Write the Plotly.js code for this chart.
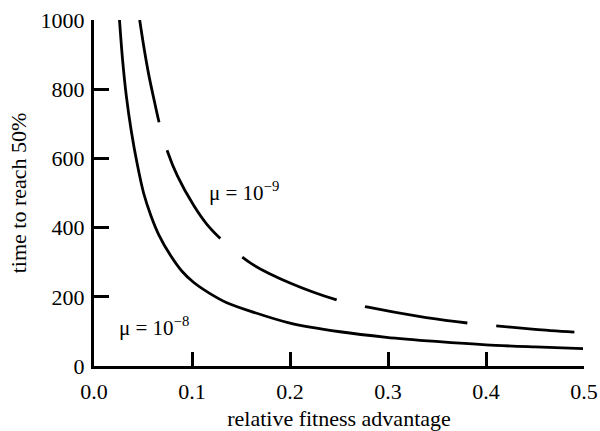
<!DOCTYPE html>
<html>
<head>
<meta charset="utf-8">
<script src="https://cdn.plot.ly/plotly-3.0.1.min.js"></script>
<style>
  html, body { margin: 0; padding: 0; background: #fff; }
  #chart { width: 600px; height: 431px; }
</style>
</head>
<body>
<div id="chart"></div>
<script>
// Data
const solidX = [0.026, 0.029, 0.033, 0.038, 0.044, 0.0506, 0.058, 0.066, 0.078, 0.09, 0.1015, 0.118, 0.1355, 0.16, 0.2, 0.251, 0.2985, 0.349, 0.4, 0.45, 0.499];
const solidY = [1000, 890, 780, 680, 585, 500, 435, 380, 320, 273, 242, 210, 183, 158, 124, 99, 83, 71, 61, 55, 50];

const dashedX = [0.0466, 0.051, 0.056, 0.062, 0.0669, 0.075, 0.085, 0.1015, 0.115, 0.132, 0.161, 0.2, 0.251, 0.2797, 0.33, 0.3697, 0.3986, 0.45, 0.4902];
const dashedY = [1000, 920, 840, 760, 699, 620, 550, 465, 410, 360, 295, 240, 188, 170, 144, 128, 119, 106, 98];

const xTickVals = [0, 0.1, 0.2, 0.3, 0.4, 0.5];
const xTickText = ["0.0", "0.1", "0.2", "0.3", "0.4", "0.5"];
const yTickVals = [0, 200, 400, 600, 800, 1000];
const yTickText = ["0", "200", "400", "600", "800", "1000"];

const labelSolid = "μ = 10<sup>−8</sup>";
const labelDashed = "μ = 10<sup>−9</sup>";
const xTitle = "relative fitness advantage";
const yTitle = "time to reach 50%";

const FONT = "Liberation Serif";

const traces = [
  {
    x: solidX, y: solidY, type: "scatter", mode: "lines",
    line: { color: "#000", width: 2.8, shape: "spline", smoothing: 0.8 },
    hoverinfo: "skip", showlegend: false
  },
  {
    x: dashedX, y: dashedY, type: "scatter", mode: "lines",
    line: { color: "#000", width: 2.8, shape: "spline", smoothing: 0.8, dash: "104px,29px" },
    hoverinfo: "skip", showlegend: false
  }
];

const layout = {
  width: 600, height: 431,
  margin: { l: 94, r: 16, t: 20, b: 65, pad: 0 },
  paper_bgcolor: "#fff", plot_bgcolor: "#fff",
  font: { family: FONT, size: 22, color: "#000" },
  showlegend: false,
  xaxis: {
    range: [0, 0.5], tickvals: xTickVals, ticktext: xTickText,
    ticks: "inside", ticklen: 14, tickwidth: 3, tickcolor: "#000",
    ticklabelstandoff: 4,
    showline: true, linewidth: 3, linecolor: "#000",
    showgrid: false, zeroline: false, mirror: false,
    tickfont: { family: FONT, size: 22, color: "#000" },
    title: { text: xTitle, font: { family: FONT, size: 22, color: "#000" }, standoff: 10 }
  },
  yaxis: {
    range: [0, 1000], tickvals: yTickVals, ticktext: yTickText,
    ticks: "inside", ticklen: 15, tickwidth: 3, tickcolor: "#000",
    ticklabelstandoff: 2,
    showline: true, linewidth: 3, linecolor: "#000",
    showgrid: false, zeroline: false, mirror: false,
    tickfont: { family: FONT, size: 22, color: "#000" },
    title: { text: yTitle, font: { family: FONT, size: 22, color: "#000" }, standoff: 8 }
  },
  annotations: [
    { x: 0.1152, y: 505, xref: "x", yref: "y", text: labelDashed, showarrow: false,
      xanchor: "left", yanchor: "middle", font: { family: FONT, size: 21, color: "#000" } },
    { x: 0.0235, y: 113, xref: "x", yref: "y", text: labelSolid, showarrow: false,
      xanchor: "left", yanchor: "middle", font: { family: FONT, size: 21, color: "#000" } }
  ]
};

Plotly.newPlot("chart", traces, layout, { staticPlot: true, displayModeBar: false });
</script>
</body>
</html>
